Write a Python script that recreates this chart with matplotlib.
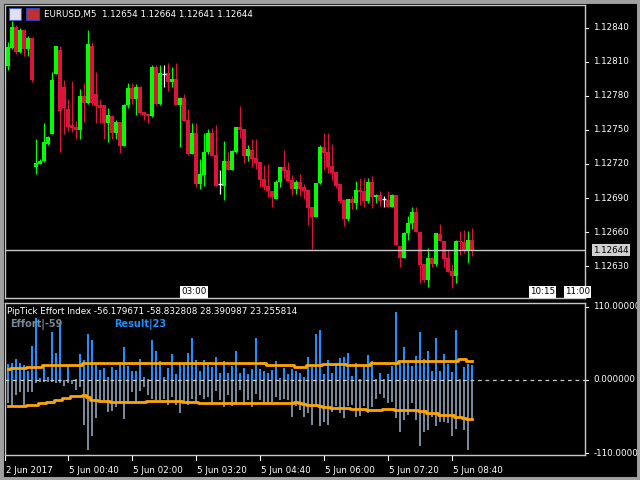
import matplotlib
matplotlib.use("Agg")
import matplotlib.pyplot as plt
from matplotlib.patches import Rectangle

opens = [12806,12822,12841,12819,12838,12821,12831,12717,12720,12723,12738,12746,12799,12820,12788,12768,12754,12753,12750,12780,
12774,12824,12782,12772,12772,12756,12762,12747,12757,12736,12772,12787,12777,12788,12766,12764,12762,12805,12773,12799,
12800,12792,12795,12772,12778,12759,12729,12747,12702,12710,12731,12747,12728,12702,12701,12723,12715,12731,12753,12751,
12727,12732,12725,12722,12707,12701,12696,12689,12704,12717,12715,12706,12698,12704,12700,12697,12682,12673,12703,12735,
12731,12718,12713,12702,12688,12672,12689,12686,12697,12696,12687,12704,12691,12693,12689,12688,12682,12693,12648,12637,
12659,12668,12678,12660,12632,12618,12637,12632,12658,12652,12637,12626,12621,12652,12651,12643,12653]
closes = [12823,12841,12819,12838,12821,12831,12794,12721,12723,12739,12744,12794,12824,12767,12769,12753,12752,12750,12780,12774,
12826,12774,12771,12769,12756,12763,12747,12757,12736,12772,12787,12777,12788,12765,12763,12762,12805,12773,12800,12799,
12792,12795,12772,12778,12758,12729,12747,12702,12711,12731,12747,12727,12701,12702,12723,12715,12731,12753,12750,12727,
12733,12724,12721,12706,12700,12696,12691,12704,12717,12714,12705,12698,12704,12698,12696,12681,12673,12703,12735,12730,
12717,12712,12701,12687,12672,12689,12686,12697,12695,12687,12704,12691,12693,12687,12689,12682,12693,12649,12637,12659,
12668,12678,12660,12631,12618,12637,12632,12659,12652,12636,12625,12621,12652,12651,12643,12653,12644]
highs = [12827,12846,12842,12840,12839,12833,12831,12742,12724,12756,12745,12801,12824,12824,12794,12777,12793,12758,12786,12791,
12838,12827,12801,12777,12772,12769,12763,12759,12757,12773,12791,12791,12790,12789,12766,12764,12807,12807,12807,12807,
12809,12805,12809,12779,12782,12768,12756,12756,12724,12747,12751,12752,12754,12715,12740,12731,12732,12753,12771,12751,
12737,12742,12742,12722,12719,12720,12696,12706,12717,12732,12722,12710,12706,12711,12702,12697,12682,12703,12737,12747,
12747,12738,12713,12702,12689,12689,12692,12705,12708,12708,12708,12709,12694,12696,12692,12696,12694,12693,12648,12660,
12674,12682,12682,12660,12632,12646,12638,12659,12667,12652,12644,12632,12653,12661,12662,12661,12664]
lows = [12803,12821,12817,12818,12815,12815,12792,12711,12720,12722,12737,12746,12799,12731,12746,12749,12748,12742,12742,12757,
12773,12772,12756,12756,12742,12739,12742,12742,12730,12736,12769,12773,12763,12764,12759,12756,12761,12772,12772,12788,
12784,12788,12772,12735,12758,12728,12729,12700,12698,12701,12729,12727,12701,12694,12688,12715,12715,12730,12743,12721,
12723,12717,12716,12700,12697,12691,12682,12689,12700,12708,12704,12693,12694,12692,12689,12666,12645,12673,12702,12715,
12712,12706,12699,12686,12665,12670,12680,12680,12684,12682,12686,12681,12686,12683,12682,12682,12682,12649,12629,12637,
12653,12663,12660,12615,12616,12612,12629,12630,12652,12629,12625,12611,12615,12640,12642,12633,12639]

result = [24,26,31,26,23,13,51,93,3,23,5,73,41,85,0,21,0,1,39,30,
70,60,26,15,18,5,20,15,25,49,21,13,14,32,4,1,60,43,29,4,
18,39,9,25,26,41,63,30,13,30,23,19,35,10,29,10,21,44,10,18,
9,16,63,16,13,11,15,28,3,18,9,16,13,11,4,35,19,69,75,9,
30,10,25,33,35,41,6,25,1,21,38,29,2,11,1,9,21,102,25,49,
25,21,36,72,31,44,13,63,14,39,24,12,75,1,20,24,23]
effort = [-35,-40,-23,-18,-39,-18,-18,-5,-3,-3,-3,-3,-5,-5,-9,-5,-6,-15,-10,-68,
-105,-85,-58,-33,-30,-48,-46,-40,-35,-59,-34,-18,-34,-16,-10,-23,-28,-30,-30,-28,
-38,-25,-38,-50,-33,-38,-28,-34,-23,-28,-25,-35,-16,-30,-40,-23,-39,-38,-15,-38,
-30,-40,-21,-30,-36,-35,-33,-25,-30,-28,-30,-55,-39,-45,-55,-49,-68,-40,-69,-64,
-68,-48,-39,-49,-57,-39,-38,-55,-54,-39,-49,-40,-29,-21,-27,-35,-33,-57,-79,-60,
-53,-34,-60,-99,-78,-76,-55,-69,-63,-63,-65,-84,-74,-59,-75,-105,-59]
upper = [16,18,18,18,18,20,20,20,20,23,23,23,23,23,23,23,23,23,23,26,
26,26,26,25,25,25,25,25,25,25,25,25,25,25,25,25,25,25,25,25,
25,26,26,26,26,26,26,26,26,26,26,26,26,26,26,26,26,25,25,25,
25,25,25,25,25,23,23,23,23,23,23,23,20,20,20,22,22,23,23,24,
24,24,24,24,24,22,22,22,22,22,22,25,25,26,26,26,26,26,28,28,
28,28,28,29,29,29,29,29,29,29,29,29,29,31,31,29,29]
lower = [-39,-39,-39,-39,-39,-38,-38,-38,-35,-35,-33,-33,-30,-30,-27,-27,-24,-24,-24,-23,
-26,-30,-30,-32,-32,-32,-33,-33,-33,-33,-33,-33,-33,-33,-33,-31,-31,-31,-31,-31,
-32,-32,-32,-32,-33,-33,-33,-33,-34,-34,-34,-34,-34,-34,-34,-35,-35,-35,-35,-35,
-35,-35,-35,-35,-35,-35,-35,-35,-35,-35,-34,-34,-33,-34,-36,-38,-38,-38,-39,-40,
-40,-42,-42,-42,-42,-42,-43,-43,-43,-43,-45,-45,-45,-45,-43,-43,-43,-45,-45,-45,
-45,-45,-45,-47,-47,-50,-50,-50,-52,-52,-52,-53,-55,-55,-57,-59,-59]

price_ticks = [1.12840,1.12810,1.12780,1.12750,1.12720,1.12690,1.12660,1.12630]
ind_ticks = [110, 0, -110]
time_labels = ["2 Jun 2017","5 Jun 00:40","5 Jun 02:00","5 Jun 03:20","5 Jun 04:40","5 Jun 06:00","5 Jun 07:20","5 Jun 08:40"]
time_pos = [-0.75,15,31,47,63,79,95,111]
last_price = 1.12644

W, H = 640, 480
fig = plt.figure(figsize=(6.4, 4.8), dpi=100, facecolor='black')
plt.rcParams['font.family'] = ['DejaVu Sans']
FS = 6.3

def fx(px): return px / W
def fy(py): return 1 - py / H

fig.patches.append(Rectangle((0, 0), 1, 1, transform=fig.transFigure, fill=False,
                             edgecolor='#a0a0a0', lw=5))

ax = fig.add_axes([fx(5), fy(298), fx(585) - fx(5), fy(5) - fy(298)])
ax2 = fig.add_axes([fx(5), fy(455), fx(585) - fx(5), fy(303) - fy(455)])
for a in (ax, ax2):
    a.set_facecolor('black')
    for s in a.spines.values():
        s.set_color('#c8c8c8'); s.set_linewidth(1)
    a.set_xticks([]); a.set_yticks([])
    a.set_xlim(-0.75, 144.25)

n = len(closes)
P = lambda v: 1 + v / 1e5
for i in range(n):
    o, c, h, l = P(opens[i]), P(closes[i]), P(highs[i]), P(lows[i])
    col = '#00ff00' if c > o else ('#dc143c' if c < o else 'white')
    ax.vlines(i, l, h, color=col, lw=0.9)
    if c != o:
        ax.bar(i, abs(c - o), bottom=min(o, c), width=0.78, color=col, linewidth=0,
               antialiased=False)
    else:
        ax.hlines(o, i - 0.4, i + 0.4, color=col, lw=1)
ax.set_ylim(1.12602, 1.12860)
ax.axhline(last_price, color='#c8c8c8', lw=1)

for t in price_ticks:
    ax.annotate(f"{t:.5f}", xy=(1, t), xycoords=('axes fraction', 'data'),
                xytext=(6, 0), textcoords='offset points', va='center', ha='left',
                color='white', fontsize=FS, annotation_clip=False)
    ax.plot([1, 1.006], [t, t], transform=ax.get_yaxis_transform(), color='white',
            lw=0.8, clip_on=False)
ax.annotate(f"{last_price:.5f}", xy=(1, last_price), xycoords=('axes fraction', 'data'),
            xytext=(6, 0), textcoords='offset points', va='center', ha='left',
            color='black', fontsize=FS, annotation_clip=False,
            bbox=dict(boxstyle='square,pad=0.15', fc='#d0d0d0', ec='none'))

fig.text(fx(44), fy(14), "EURUSD,M5  1.12654 1.12664 1.12641 1.12644", color='white',
         fontsize=FS, va='center')
fig.patches.append(Rectangle((fx(9), fy(20)), 12 / W, 12 / H, transform=fig.transFigure,
                             fc='#e0e0f0', ec='#4060c0', lw=0.8))
fig.patches.append(Rectangle((fx(26), fy(20)), 13 / W, 12 / H, transform=fig.transFigure,
                             fc='#c03030', ec='#3040c0', lw=0.8))
for xx, lab in [(181, "03:00"), (530, "10:15"), (565, "11:00")]:
    fig.text(fx(xx), fy(292), lab, color='black', fontsize=FS, va='center',
             bbox=dict(boxstyle='square,pad=0.15', fc='white', ec='none'))

xs = list(range(n))
ax2.bar(xs, result, width=0.55, color='#1e90ff', linewidth=0, antialiased=False)
ax2.bar(xs, effort, width=0.55, color='#778899', linewidth=0, antialiased=False)
ax2.step(xs, upper, where='mid', color='#ffa500', lw=2)
ax2.step(xs, lower, where='mid', color='#ffa500', lw=2)
ax2.axhline(0, color='#c8c8c8', lw=0.9, ls=(0, (3, 3)))
ax2.set_ylim(-113, 116)
for t in ind_ticks:
    ax2.annotate(f"{t:.6f}", xy=(1, t), xycoords=('axes fraction', 'data'),
                 xytext=(6, 0), textcoords='offset points', va='center', ha='left',
                 color='white', fontsize=FS, annotation_clip=False)
    ax2.plot([1, 1.006], [t, t], transform=ax2.get_yaxis_transform(), color='white',
             lw=0.8, clip_on=False)
fig.text(fx(7), fy(312), "PipTick Effort Index -56.179671 -58.832808 28.390987 23.255814",
         color='white', fontsize=FS, va='center')
fig.text(fx(10), fy(324), "Effort|-59", color='#778899', fontsize=7, weight='bold', va='center')
fig.text(fx(114), fy(324), "Result|23", color='#1e90ff', fontsize=7, weight='bold', va='center')

for p, lab in zip(time_pos, time_labels):
    ax2.plot([p, p], [0, -0.03], transform=ax2.get_xaxis_transform(), color='white',
             lw=0.8, clip_on=False)
    ax2.annotate(lab, xy=(p, 0), xycoords=('data', 'axes fraction'), xytext=(1, -11),
                 textcoords='offset points', color='white', fontsize=FS, ha='left',
                 va='center', annotation_clip=False)

fig.savefig("out.png", dpi=100, facecolor='black')
